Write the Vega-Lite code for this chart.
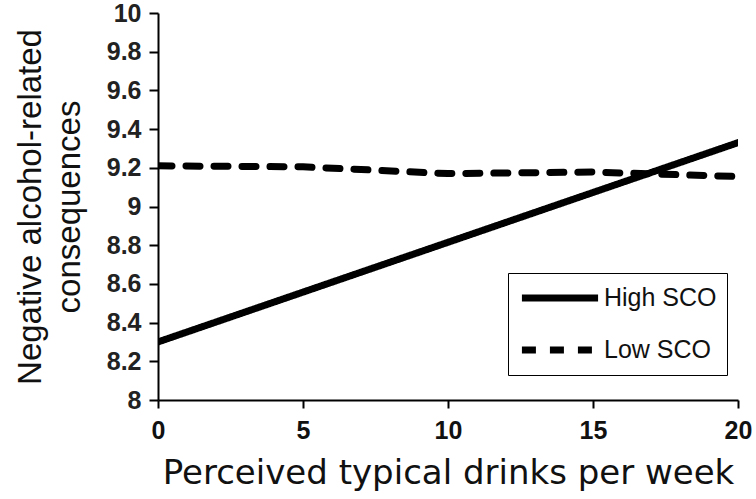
{
  "$schema": "https://vega.github.io/schema/vega-lite/v6.json",
  "width": 580,
  "height": 387,
  "autosize": {"type": "none"},
  "padding": {"left": 158, "top": 13, "right": 18, "bottom": 99},
  "background": "white",
  "config": {
    "view": {"stroke": null},
    "font": "Liberation Sans"
  },
  "data": {
    "values": [
      {"x": 0, "y": 8.30, "group": "High SCO"},
      {"x": 20, "y": 9.33, "group": "High SCO"},
      {"x": 0, "y": 9.21, "group": "Low SCO"},
      {"x": 5, "y": 9.205, "group": "Low SCO"},
      {"x": 10, "y": 9.17, "group": "Low SCO"},
      {"x": 15, "y": 9.178, "group": "Low SCO"},
      {"x": 20, "y": 9.155, "group": "Low SCO"}
    ]
  },
  "mark": {"type": "line", "color": "black", "strokeWidth": 7, "strokeCap": "round", "clip": true},
  "encoding": {
    "x": {
      "field": "x", "type": "quantitative",
      "scale": {"domain": [0, 20], "nice": false, "zero": false},
      "axis": {
        "values": [0, 5, 10, 15, 20], "grid": false, "format": "~g",
        "title": "Perceived typical drinks per week",
        "titleFont": "DejaVu Sans", "titleFontSize": 34, "titleFontWeight": "normal", "titleColor": "#111", "titlePadding": 13,
        "labelFontSize": 25, "labelFontWeight": "bold", "labelColor": "#111", "labelPadding": 10,
        "domainColor": "black", "domainWidth": 2, "tickColor": "black", "tickWidth": 2, "tickSize": 8,
        "labelFlush": false
      }
    },
    "y": {
      "field": "y", "type": "quantitative",
      "scale": {"domain": [8, 10], "nice": false, "zero": false},
      "axis": {
        "values": [8, 8.2, 8.4, 8.6, 8.8, 9, 9.2, 9.4, 9.6, 9.8, 10], "grid": false, "format": "~g",
        "title": ["Negative alcohol-related", "consequences"],
        "titleFontSize": 33, "titleFontWeight": "normal", "titleColor": "#111", "titlePadding": 20, "titleLineHeight": 39,
        "labelFontSize": 25, "labelFontWeight": "bold", "labelColor": "#222", "labelPadding": 8,
        "domainColor": "black", "domainWidth": 2, "tickColor": "black", "tickWidth": 2, "tickSize": 9,
        "labelFlush": false
      }
    },
    "strokeDash": {
      "field": "group", "type": "nominal",
      "scale": {"domain": ["High SCO", "Low SCO"], "range": [[1, 0], [14, 14]]},
      "legend": {
        "title": null, "orient": "none", "legendX": 350, "legendY": 260,
        "strokeColor": "black", "padding": 10, "clipHeight": 30,
        "symbolType": "stroke", "symbolStrokeWidth": 7, "symbolSize": 5800, "symbolStrokeColor": "black",
        "labelFontSize": 25, "labelColor": "#111", "labelOffset": 2, "rowPadding": 22
      }
    }
  }
}
